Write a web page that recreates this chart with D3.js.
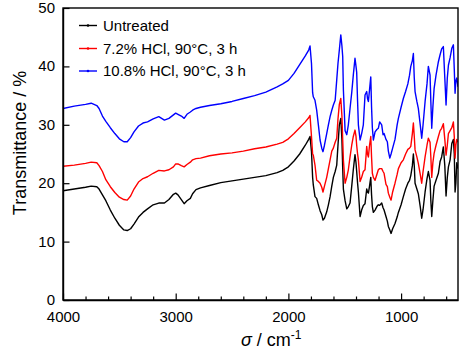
<!DOCTYPE html>
<html>
<head>
<meta charset="utf-8">
<script src="https://cdn.jsdelivr.net/npm/d3@7"></script>
<style>
  html, body { margin: 0; padding: 0; background: #fff; }
  svg { display: block; }
  text { font-family: "Liberation Sans", Arial, sans-serif; fill: #000; }
</style>
</head>
<body>
<svg id="chart" width="465" height="355"></svg>
<script>
// ---- data ----
const wavenumber = [
  4000, 3900, 3800, 3750, 3700, 3680, 3650, 3620, 3580, 3540, 3500, 3460, 3430, 3400, 3370, 3330,
  3290, 3250, 3200, 3150, 3100, 3060, 3020, 3000, 2980, 2950, 2925, 2900, 2870, 2850, 2820, 2780,
  2700, 2600, 2500, 2400, 2300, 2200, 2100, 2050, 2000, 1950, 1900, 1850, 1820,
  1808, 1795, 1785, 1779, 1764, 1749, 1734, 1719, 1704, 1693, 1680, 1660, 1645, 1630, 1615, 1601,
  1585, 1571, 1560, 1548, 1535, 1525, 1518, 1512, 1497, 1482, 1468, 1453, 1438, 1424, 1409, 1400,
  1394, 1386, 1379, 1364, 1350, 1335, 1320, 1305, 1298, 1290, 1280, 1269, 1262, 1255, 1246, 1231,
  1215, 1202, 1190, 1172, 1160, 1151, 1134, 1122, 1113, 1100, 1089, 1075, 1054, 1035, 1024, 1000,
  980, 960, 940, 925, 914, 900, 891, 883, 876, 860, 847, 830, 817, 805, 787, 770,
  758, 743, 736, 728, 718, 707, 690, 669, 654, 640, 625, 612, 601, 590, 580, 565,
  550, 536, 528, 521, 514, 506, 495
];

const untreated = [
  18.7, 19.0, 19.3, 19.5, 19.4, 19.0, 18.0, 17.0, 15.4, 14.0, 12.8, 12.0, 11.9, 12.2, 13.0, 14.2,
  15.0, 15.6, 16.3, 16.6, 16.6, 17.2, 18.1, 18.3, 18.0, 17.2, 16.5, 17.0, 17.4, 18.2, 18.9, 19.2,
  19.6, 20.1, 20.4, 20.7, 21.0, 21.3, 21.8, 22.2, 22.8, 23.8, 25.0, 26.5, 27.5,
  28.0, 25.4, 21.0, 19.7, 17.7, 17.4, 16.3, 15.3, 14.6, 13.7, 14.0, 15.1, 16.3, 17.7, 19.5, 21.0,
  22.0, 23.1, 26.5, 30.0, 31.1, 27.5, 22.5, 19.0, 17.0, 15.6, 16.0, 16.6, 19.5, 22.3, 24.9, 23.5,
  22.0, 20.0, 18.5, 14.3, 15.4, 16.2, 16.5, 19.0, 18.5, 18.3, 19.5, 21.0, 18.0, 16.0, 15.0, 15.4,
  16.0, 16.3, 16.2, 16.6, 15.8, 15.4, 14.3, 13.5, 12.6, 12.0, 11.4, 12.2, 13.1, 14.2, 15.0, 16.3,
  17.7, 19.0, 20.0, 20.5, 21.3, 23.0, 25.0, 23.0, 20.0, 19.0, 18.2, 16.0, 14.0, 15.5, 18.5, 20.8,
  22.0, 20.5, 17.0, 14.3, 17.0, 19.5, 20.5, 21.7, 23.7, 24.5, 26.2, 23.0, 17.8, 21.0, 22.8, 24.0,
  26.8, 27.5, 25.0, 18.5, 20.0, 23.5, 22.5
];

const hcl72 = [
  22.9, 23.1, 23.4, 23.6, 23.5, 23.0, 22.0, 20.6, 19.4, 18.4, 17.6, 17.2, 17.1, 17.8, 19.0, 20.2,
  20.8, 21.1, 21.7, 22.2, 22.1, 22.3, 22.8, 23.3, 23.3, 23.0, 22.8, 23.2, 23.6, 24.0, 24.2, 24.3,
  24.7, 25.0, 25.2, 25.5, 25.9, 26.2, 26.7, 27.0, 27.6, 28.5, 29.5, 30.5, 31.2,
  31.6, 28.0, 25.0, 24.8, 23.1, 20.5, 20.3, 20.0, 19.3, 18.5, 19.5, 21.0, 22.5, 24.0, 25.5, 26.0,
  27.0, 27.7, 31.0, 33.5, 34.5, 31.5, 27.4, 24.0, 20.0, 21.0, 22.3, 24.5, 26.5, 28.0, 29.1, 28.0,
  26.5, 25.0, 24.0, 20.3, 21.0, 22.0, 22.3, 26.3, 25.0, 24.5, 26.5, 28.0, 24.5, 21.7, 21.0, 20.5,
  21.5, 22.3, 22.5, 22.5, 22.0, 21.7, 19.8, 19.4, 18.3, 17.6, 17.1, 18.5, 20.0, 21.5, 22.5, 23.5,
  24.0, 25.0, 25.8, 26.0, 26.3, 28.5, 30.3, 28.0, 25.7, 24.5, 23.4, 21.5, 20.0, 22.0, 24.5, 26.5,
  27.7, 27.0, 24.5, 21.0, 23.5, 25.1, 26.5, 28.0, 29.0, 29.4, 30.2, 27.5, 24.8, 26.5, 28.5, 29.0,
  29.5, 30.5, 28.0, 24.3, 26.5, 27.5, 27.0
];

const hcl108 = [
  32.8, 33.2, 33.5, 33.7, 33.3, 32.8, 31.5, 30.6, 29.5, 28.5, 27.6, 27.1, 27.1, 27.8, 28.8, 29.8,
  30.3, 30.5, 31.0, 31.4, 30.8, 31.1, 31.7, 32.0, 31.8, 31.5, 31.1, 31.8, 32.2, 32.5, 32.8, 33.0,
  33.3, 33.6, 34.0, 34.5, 35.0, 35.6, 36.5, 37.0, 37.6, 38.8, 40.3, 41.8, 42.8,
  43.5, 40.5, 35.5, 34.8, 34.2, 32.5, 30.0, 27.4, 26.0, 25.4, 26.5, 28.5, 30.0, 31.4, 32.5, 33.4,
  34.2, 37.7, 40.5, 42.8, 45.4, 43.5, 41.7, 36.0, 29.0, 28.3, 30.0, 32.8, 35.5, 38.5, 41.4, 40.0,
  39.0, 34.0, 30.0, 27.4, 28.5, 30.0, 35.1, 35.7, 34.5, 34.0, 36.0, 38.2, 33.0, 29.5, 27.4, 28.8,
  29.2, 29.4, 30.5, 30.0, 28.3, 28.5, 27.5, 27.1, 25.5, 24.3, 25.0, 26.0, 27.5, 30.0, 31.1, 33.0,
  34.5, 35.7, 37.0, 38.5, 40.0, 41.0, 42.2, 38.0, 35.7, 34.0, 32.8, 30.0, 27.7, 30.0, 34.0, 37.0,
  40.0, 38.5, 34.0, 29.4, 33.0, 36.2, 38.5, 40.8, 42.0, 43.0, 43.4, 38.0, 33.4, 38.0, 40.2, 41.5,
  43.1, 43.7, 39.5, 35.4, 37.5, 38.0, 36.5
];

const seriesNames = ["Untreated", "7.2% HCl, 90°C, 3 h", "10.8% HCl, 90°C, 3 h"];
const seriesColors = ["#000000", "#ff0000", "#0000ff"];
const xMajorTicks = [4000, 3000, 2000, 1000];
const yTicks = [0, 10, 20, 30, 40, 50];

// ---- layout ----
const svg = d3.select("#chart");
const L = 63, R = 458, T = 8, B = 300;

const x = d3.scaleLinear().domain([4000, 495]).range([L, R]);
const y = d3.scaleLinear().domain([0, 50]).range([B, T]);

const allSeries = [untreated, hcl72, hcl108];

// curves
const line = d3.line()
  .x(d => x(d[0]))
  .y(d => y(d[1]));

svg.append("clipPath").attr("id", "clip")
  .append("rect").attr("x", L).attr("y", T).attr("width", R - L).attr("height", B - T);

const g = svg.append("g").attr("clip-path", "url(#clip)");
allSeries.forEach((vals, i) => {
  const pts = wavenumber.map((w, j) => [w, vals[j]]);
  g.append("path")
    .attr("d", line(pts))
    .attr("fill", "none")
    .attr("stroke", seriesColors[i])
    .attr("stroke-width", 1.4)
    .attr("stroke-linejoin", "round");
});

// frame
svg.append("rect")
  .attr("x", L).attr("y", T).attr("width", R - L).attr("height", B - T)
  .attr("fill", "none").attr("stroke", "#000").attr("stroke-width", 1.4);

// x axis major
const xAxis = d3.axisBottom(x).tickValues(xMajorTicks).tickSize(-6.5).tickSizeOuter(0).tickPadding(11.5)
  .tickFormat(d3.format("d"));
const gx = svg.append("g").attr("transform", `translate(0,${B})`).call(xAxis);
gx.select(".domain").attr("stroke-width", 1.4);
gx.selectAll(".tick line").attr("stroke-width", 1.2);
gx.selectAll("text").style("font-size", "15px").style("font-family", "'Liberation Sans', Arial, sans-serif");

// x axis minor
const minorVals = d3.range(3800, 495, -200).filter(v => !xMajorTicks.includes(v));
const xMinor = d3.axisBottom(x).tickValues(minorVals).tickSize(-3.5).tickSizeOuter(0).tickFormat("");
const gxm = svg.append("g").attr("transform", `translate(0,${B})`).call(xMinor);
gxm.select(".domain").remove();
gxm.selectAll(".tick line").attr("stroke-width", 1.2);

// y axis
const yAxis = d3.axisLeft(y).tickValues(yTicks).tickSize(-6.5).tickSizeOuter(0).tickPadding(8)
  .tickFormat(d3.format("d"));
const gy = svg.append("g").attr("transform", `translate(${L},0)`).call(yAxis);
gy.select(".domain").attr("stroke-width", 1.4);
gy.selectAll(".tick line").attr("stroke-width", 1.2);
gy.selectAll("text").style("font-size", "15px").style("font-family", "'Liberation Sans', Arial, sans-serif")
  .attr("dy", "0.3em");

// axis titles
svg.append("text")
  .attr("transform", "translate(26,143) rotate(-90)")
  .attr("text-anchor", "middle")
  .style("font-size", "18px")
  .text("Transmittance / %");

const xt = svg.append("text")
  .attr("x", 241).attr("y", 346)
  .style("font-size", "18px");
xt.append("tspan").style("font-style", "italic").text("σ");
xt.append("tspan").text(" / cm");
xt.append("tspan").attr("dy", -7).style("font-size", "12px").text("-1");

// legend
const legendY = [25.5, 48.5, 71];
seriesNames.forEach((name, i) => {
  const ly = legendY[i];
  svg.append("line")
    .attr("x1", 79).attr("x2", 97).attr("y1", ly).attr("y2", ly)
    .attr("stroke", seriesColors[i]).attr("stroke-width", 1.4);
  svg.append("circle").attr("cx", 88).attr("cy", ly).attr("r", 1.3).attr("fill", seriesColors[i]);
  svg.append("text")
    .attr("x", 103).attr("y", ly).attr("dy", "0.35em")
    .style("font-size", "15px")
    .text(name);
});
</script>
</body>
</html>
